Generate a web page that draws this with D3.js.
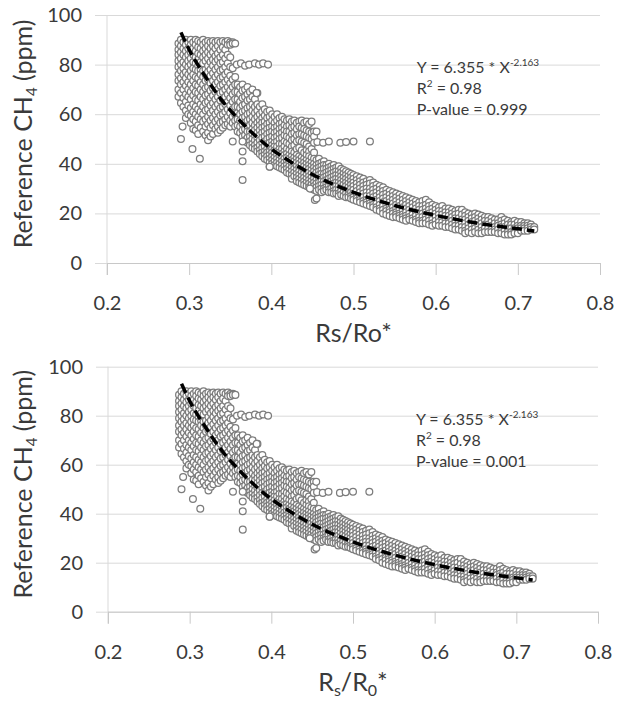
<!DOCTYPE html>
<html>
<head>
<meta charset="utf-8">
<script src="https://cdn.jsdelivr.net/npm/d3@7"></script>
<style>
  body { margin: 0; background: #fff; }
  text { font-family: Lato, "Open Sans", sans-serif; fill: #3a3a3a; }
</style>
</head>
<body>
<div id="wrapper"></div>
<script>
// ---- values ----
const xTicks = [0.2, 0.3, 0.4, 0.5, 0.6, 0.7, 0.8];
const yTicks = [0, 20, 40, 60, 80, 100];

const fitEquation = "Y = 6.355 * X";
const fitExponent = "-2.163";
const rSquared = "0.98";
const pValues = ["0.999", "0.001"];

// dashed power-law trend
const trendPoints = [[0.29, 93], [0.30, 86], [0.32, 75], [0.34, 65.5], [0.36, 58], [0.38, 51.5],
  [0.40, 46], [0.42, 41.5], [0.45, 35.7], [0.50, 28.5], [0.55, 23.2], [0.60, 19.2],
  [0.65, 16.1], [0.70, 13.8], [0.72, 12.9]];

// scatter, as columns: [Rs/Ro, [CH4 values]]
const upperCloud = [
  [0.287, [88.5, 86, 84, 81.5, 79, 76, 73.5, 70, 67]],
  [0.290, [90, 87.5, 85, 82.5, 80, 77.5, 74.5, 72, 68.5, 64.5]],
  [0.293, [89, 86.5, 84, 81, 78.5, 76, 73, 70, 66.5, 63]],
  [0.296, [90, 88, 85.5, 83, 80, 77, 74.5, 71.5, 68, 65, 61.5, 58.5]],
  [0.299, [89, 86.5, 84, 81.5, 79, 76, 73, 70, 67, 63.5, 60]],
  [0.302, [90, 88, 85, 82.5, 80, 77.5, 75, 72, 69, 66, 62.5, 59.5, 56.5]],
  [0.305, [89, 86.5, 84, 81, 78.5, 76, 73.5, 70.5, 67.5, 64, 61, 58, 54]],
  [0.308, [90, 88, 85.5, 83, 80.5, 78, 75, 72, 69, 66, 63, 60, 57, 53.5]],
  [0.311, [89.5, 87, 84.5, 82, 79.5, 77.5, 74.5, 71.5, 68.5, 65.5, 62, 59, 55.5, 52]],
  [0.314, [89, 86.5, 84, 81, 78, 76, 73, 70, 67, 64, 61, 58, 54.5]],
  [0.317, [90, 88, 85.5, 83, 80.5, 77.5, 75, 72, 69, 66, 63, 60, 57, 53]],
  [0.320, [89, 86.5, 84, 81.5, 78, 76, 73.5, 70.5, 67.5, 64.5, 61.5, 58, 55, 51.5]],
  [0.323, [89.5, 87.5, 85, 82.5, 79.5, 77, 74, 71, 68, 65, 62, 59, 56, 52.5, 49.5]],
  [0.326, [89, 86.5, 84, 81, 78, 75.5, 72.5, 69.5, 66.5, 63.5, 60.5, 57.5, 54.5, 51]],
  [0.329, [89.5, 87.5, 85, 82, 79.5, 76.5, 73.5, 70.5, 67.5, 64.5, 61.5, 58.5, 55.5, 52]],
  [0.332, [89, 86.5, 83.5, 81, 78, 75, 72, 69, 66, 63, 60, 57, 54]],
  [0.335, [89.5, 87.5, 84.5, 82, 79, 76, 73, 70, 67, 64, 61, 58, 55, 52.5]],
  [0.338, [89, 86, 83, 80.5, 77.5, 74.5, 71.5, 68.5, 65.5, 62.5, 59.5, 56.5, 53.5]],
  [0.341, [89.5, 87, 84, 81, 78, 75, 72, 69, 66, 63, 60, 57, 54.5]],
  [0.344, [89, 86, 82.5, 79, 76, 73, 70, 67, 64, 61, 58, 55.5]],
  [0.347, [89.5, 88, 84, 80.5, 77, 74, 71, 68, 65, 62, 59, 56]],
  [0.350, [89, 88, 83, 79, 75.5, 72.5, 69.5, 66.5, 63.5, 60.5, 57.5, 55]],
  [0.353, [89, 88.5, 78.5, 74, 71, 68, 65, 62, 59, 56.5]],
  [0.356, [88.5, 75, 72, 69, 66, 63, 60, 57.5, 55]]
];

const wingCloud = [
  [0.359, [72, 69, 66, 63, 60.5, 58, 55.5, 53]],
  [0.362, [71, 68, 65, 62.5, 60, 57.5, 55, 52.5]],
  [0.365, [72, 69.5, 66.5, 63.5, 61, 58.5, 56, 53.5, 51]],
  [0.368, [70, 67, 64, 61.5, 59, 56.5, 54, 51.5, 49.5]],
  [0.371, [71, 68, 65.5, 62.5, 60, 57.5, 55, 53, 50.5, 48.5]],
  [0.374, [69, 66, 63, 60.5, 58, 55.5, 53, 51, 49, 47.5]],
  [0.377, [70, 67, 64, 61.5, 59, 56.5, 54, 52, 50, 48, 46.5]],
  [0.380, [66, 63, 60.5, 58, 55.5, 53.5, 51.5, 49.5, 47.5, 46]],
  [0.383, [68.5, 64, 61.5, 59, 56.5, 54.5, 52.5, 50.5, 48.5, 46.5, 45]],
  [0.386, [63, 60, 57.5, 55.5, 53.5, 51.5, 49.5, 47.5, 45.5, 44]],
  [0.389, [64, 61, 58.5, 56.5, 54.5, 52.5, 50.5, 48.5, 46.5, 44.5, 43]],
  [0.392, [62, 59.5, 57, 55, 53, 51, 49, 47, 45, 43.5, 42]],
  [0.395, [61, 58.5, 56, 54, 52, 50, 48, 46, 44.5, 43, 41.5]],
  [0.398, [61.5, 59, 56.5, 54.5, 52.5, 50.5, 48.5, 46.5, 45, 43.5, 42, 40.5, 38.8]],
  [0.401, [60, 57.5, 55, 53, 51, 49, 47.5, 46, 44.5, 43, 41.5, 40]],
  [0.404, [59, 56.5, 54.5, 52.5, 50.5, 48.5, 47, 45.5, 44, 42.5, 41, 39.5]],
  [0.407, [60, 57.5, 55, 53, 51, 49, 47, 45, 43.5, 42, 40.5, 39]],
  [0.410, [58.5, 56, 54, 52, 50, 48, 46, 44.5, 43, 41.5, 40, 38.5]],
  [0.413, [59, 56.5, 54.5, 52.5, 50.5, 48, 46, 44, 42.5, 41, 39.5, 38]],
  [0.416, [58, 55.5, 53.5, 51.5, 49, 47, 45, 43.5, 42, 40.5, 39, 37.5]],
  [0.419, [57.5, 55, 53, 51, 48.5, 46, 44, 42.5, 41, 39.5, 38, 36.5]],
  [0.422, [58, 55.5, 53, 50.5, 48, 45.5, 43.5, 42, 40.5, 39, 37.5, 36]],
  [0.425, [57, 54.5, 52, 49.5, 47, 45, 43, 41.5, 40, 38.5, 37, 35.5, 34]],
  [0.428, [57.5, 55, 52.5, 50, 47.5, 44.5, 42.5, 41, 39.5, 38, 36.5, 35]],
  [0.431, [56.5, 54, 51.5, 49, 46, 43.5, 42, 40.5, 39, 37.5, 36, 34.5, 33]],
  [0.434, [57, 55, 52, 49.5, 46.5, 43, 41.5, 40, 38.5, 37, 35.5, 34, 32.5]],
  [0.437, [57.5, 54.5, 52, 49, 45.5, 42.5, 41, 39.5, 38, 36.5, 35, 33.5, 32]],
  [0.440, [56.5, 54, 51.5, 48.5, 44.5, 42, 40.5, 39, 37.5, 36, 34.5, 33, 31.5]],
  [0.443, [57, 53.5, 51, 48, 45.5, 43.5, 41.5, 40, 38.5, 37, 35.5, 34, 32.5, 31]],
  [0.446, [56, 53, 50.5, 47, 45, 43, 41, 39.5, 38, 36.5, 35, 33.5, 32, 30.5]],
  [0.449, [57, 52.5, 50, 46, 42.5, 40.5, 39, 37.5, 36, 34.5, 33, 31.5, 30]],
  [0.452, [53, 51, 48.5, 44.5, 42, 40, 38.5, 37, 35.5, 34, 32.5, 31, 29.5]]
];

const lowerBand = [
  [0.455, [53, 41.5, 39.5, 38, 36.5, 35, 33.5, 32, 30.5, 29]],
  [0.458, [42, 40, 38.5, 37, 35.5, 34, 32.5, 31, 29.5]],
  [0.461, [40.5, 39, 37.5, 36, 34.5, 33, 31.5, 30, 28.5]],
  [0.464, [41, 39.5, 38, 36, 34.5, 33, 31.5, 30, 29]],
  [0.467, [39.5, 38, 36.5, 35, 33.5, 32, 30.5, 29.5]],
  [0.470, [40, 38.5, 37, 35.5, 34, 32.5, 31, 29.5, 28.5]],
  [0.473, [39, 37.5, 36, 34.5, 33, 31.5, 30, 28.5]],
  [0.476, [39.5, 38, 36.5, 35, 33.5, 32, 30.5, 29, 28]],
  [0.479, [38.5, 37, 35.5, 34, 32.5, 31, 29.5, 28]],
  [0.482, [39, 37, 35.5, 34, 32.5, 31, 29.5, 28, 27]],
  [0.485, [38, 36.5, 35, 33.5, 32, 30.5, 29, 27.5]],
  [0.488, [37.5, 36, 34.5, 33, 31.5, 30, 28.5, 27]],
  [0.491, [37, 35.5, 34, 32.5, 31, 29.5, 28, 26.5]],
  [0.494, [36.5, 35, 33.5, 32, 30.5, 29, 27.5, 26.5]],
  [0.497, [36, 34.5, 33, 31.5, 30, 28.5, 27, 26]],
  [0.500, [35.5, 34, 32.5, 31, 29.5, 28, 26.5, 25.5]],
  [0.504, [35, 33.5, 32, 30.5, 29, 27.5, 26, 25]],
  [0.508, [34.5, 33, 31.5, 30, 28.5, 27, 25.5, 24.5]],
  [0.512, [34, 32.5, 31, 29.5, 28, 26.5, 25, 24]],
  [0.516, [33, 31.5, 30, 28.5, 27, 25.5, 24.5, 23.5]],
  [0.520, [33.5, 32, 30, 28.5, 27, 25.5, 24, 23]],
  [0.524, [32.5, 31, 29.5, 28, 26.5, 25, 23.5, 22.5]],
  [0.528, [31.5, 30, 28.5, 27, 25.5, 24, 22.5, 21.5]],
  [0.532, [31, 29.5, 28, 26.5, 25, 23.5, 22, 21]],
  [0.536, [30.5, 29, 27.5, 26, 24.5, 23, 21.5, 20]],
  [0.540, [29.5, 28, 26.5, 25, 23.5, 22, 21, 19.5]],
  [0.544, [29, 27.5, 26, 24.5, 23, 21.5, 20.5, 19]],
  [0.548, [28.5, 27, 25.5, 24, 22.5, 21, 20, 18.5]],
  [0.552, [28, 26.5, 25, 23.5, 22, 20.5, 19.5, 18.5]],
  [0.556, [27.5, 26, 24.5, 23, 21.5, 20, 19, 18]],
  [0.560, [27, 25.5, 24, 22.5, 21, 19.5, 18.5, 17.5]],
  [0.564, [26.5, 25, 23.5, 22, 20.5, 19, 18, 17]],
  [0.568, [26, 24.5, 23, 21.5, 20, 18.5, 17.5]],
  [0.572, [25.5, 24, 22.5, 21, 19.5, 18, 17]],
  [0.576, [25, 23.5, 22, 20.5, 19, 17.5, 16.5]],
  [0.580, [24.5, 23, 21.5, 20, 18.5, 17, 16]],
  [0.584, [25, 23, 21.5, 20, 18.5, 17, 16]],
  [0.588, [25.5, 23.5, 22, 20.5, 19, 17.5, 16]],
  [0.592, [24.5, 23, 21.5, 20, 18.5, 17, 15.5]],
  [0.596, [23.5, 22, 20.5, 19, 17.5, 16, 15]],
  [0.600, [23, 21.5, 20, 18.5, 17, 15.5]],
  [0.604, [22.5, 21, 19.5, 18, 16.5, 15]],
  [0.608, [23, 21, 19.5, 18, 16.5, 15]],
  [0.612, [22, 20.5, 19, 17.5, 16, 14.5]],
  [0.616, [22, 20.5, 19, 17.5, 16, 14.5]],
  [0.620, [21.5, 20, 18.5, 17, 15.5, 14]],
  [0.624, [21, 19.5, 18, 16.5, 15, 13.5]],
  [0.628, [21.5, 20, 18, 16.5, 15, 13.5]],
  [0.632, [21.5, 19.5, 17.5, 16, 14.5, 13]],
  [0.636, [20.5, 19, 17.5, 16, 14.5, 13, 12]],
  [0.640, [20, 18.5, 17, 15.5, 14, 12.5]],
  [0.644, [19.5, 18, 16.5, 15, 13.5, 12]],
  [0.648, [20, 18.5, 17, 15.5, 14, 12.5]],
  [0.652, [19.5, 18, 16.5, 15, 13.5, 12]],
  [0.656, [19, 17.5, 16, 14.5, 13, 12]],
  [0.660, [18.5, 17, 15.5, 14, 12.5]],
  [0.664, [18.5, 17, 15.5, 14, 12.5]],
  [0.668, [18, 16.5, 15, 13.5, 12.5]],
  [0.672, [17.5, 16, 14.5, 13.5, 12.5]],
  [0.676, [17.5, 16, 15, 13.5, 12]],
  [0.680, [18.5, 17, 15.5, 14.5, 13, 12]],
  [0.684, [17.5, 16, 14.5, 13, 11.5]],
  [0.688, [17, 15.5, 14, 12.5, 11.5]],
  [0.692, [16.5, 15.5, 14, 12.5, 11.5]],
  [0.696, [17, 15.5, 14, 13, 12]],
  [0.700, [16.5, 15, 14, 13, 12]],
  [0.704, [16.5, 15, 14, 13]],
  [0.708, [16, 15, 14, 13]],
  [0.712, [16, 15, 14, 13]],
  [0.716, [15.5, 14.5, 13.5]],
  [0.720, [14.5, 13.5]]
];

// loose points and short horizontal runs
const strayPoints = [
  [0.292, 55], [0.290, 50], [0.304, 46], [0.313, 42], [0.353, 49], [0.365, 49], [0.365, 45],
  [0.365, 41], [0.365, 33.5], [0.382, 68.5], [0.398, 38.8], [0.447, 30], [0.453, 25.4], [0.455, 26],
  [0.358, 80], [0.363, 80.5], [0.368, 79.5], [0.373, 80], [0.380, 80.5], [0.385, 80], [0.390, 80.5], [0.396, 80],
  [0.456, 48.8], [0.463, 48.5], [0.470, 49], [0.484, 48.5], [0.491, 48.8], [0.500, 49], [0.520, 49]
];

// ---- layout ----
const svg = d3.select("#wrapper").append("svg")
  .attr("width", 621)
  .attr("height", 703);

const panels = [
  { top: 15, bottom: 263, left: 107, right: 600, title: [["Rs/Ro*", 0]], pValue: pValues[0] },
  { top: 366.7, bottom: 611.7, left: 108, right: 598,
    title: [["R", 0], ["s", 1], ["/R", 0], ["0", 1], ["*", 0]], pValue: pValues[1] }
];

// flatten column data into points
const scatter = [];
[upperCloud, wingCloud, lowerBand].forEach(cols => {
  cols.forEach(([xv, ys]) => ys.forEach(yv => scatter.push([xv, yv])));
});
strayPoints.forEach(p => scatter.push(p));

function drawPanel(cfg) {
  const xScale = d3.scaleLinear().domain([0.2, 0.8]).range([cfg.left, cfg.right]);
  const yScale = d3.scaleLinear().domain([0, 100]).range([cfg.bottom, cfg.top]);
  const w = cfg.right - cfg.left;

  // horizontal gridlines + y labels
  const yAxis = svg.append("g")
    .attr("transform", `translate(${cfg.left - 12},0)`)
    .call(d3.axisLeft(yScale).tickValues(yTicks).tickSize(-(w + 12)).tickPadding(13));
  yAxis.select(".domain").remove();
  yAxis.selectAll(".tick line").attr("stroke", "#d9d9d9");
  yAxis.selectAll(".tick text").style("font-size", "20px").attr("fill", "#3a3a3a");

  // vertical axis line
  svg.append("line")
    .attr("x1", cfg.left).attr("x2", cfg.left)
    .attr("y1", cfg.top).attr("y2", cfg.bottom + 12)
    .attr("stroke", "#d9d9d9");

  // x axis
  const xAxis = svg.append("g")
    .attr("transform", `translate(0,${cfg.bottom})`)
    .call(d3.axisBottom(xScale).tickValues(xTicks).tickSize(12).tickSizeOuter(0)
      .tickPadding(21).tickFormat(d3.format(".1f")));
  xAxis.select(".domain").attr("stroke", "#c8c8c8");
  xAxis.selectAll(".tick line").attr("stroke", "#c8c8c8");
  xAxis.selectAll(".tick text").style("font-size", "20px").attr("fill", "#3a3a3a");

  // points
  svg.append("g").selectAll("circle")
    .data(scatter)
    .join("circle")
    .attr("cx", d => xScale(d[0]))
    .attr("cy", d => yScale(d[1]))
    .attr("r", 3.4)
    .attr("fill", "#fff")
    .attr("stroke", "#7c7c7c")
    .attr("stroke-width", 1.25);

  // trend line
  const line = d3.line()
    .x(d => xScale(d[0]))
    .y(d => yScale(d[1]))
    .curve(d3.curveMonotoneX);
  svg.append("path")
    .attr("d", line(trendPoints))
    .attr("fill", "none")
    .attr("stroke", "#000")
    .attr("stroke-width", 3.5)
    .attr("stroke-dasharray", "10,5");

  // equation text
  const ax = xScale(0.577);
  const t1 = svg.append("text").attr("x", ax).attr("y", cfg.top + 58).style("font-size", "16px");
  t1.append("tspan").text(fitEquation);
  t1.append("tspan").text(fitExponent).style("font-size", "10px").attr("dy", -7);
  const t2 = svg.append("text").attr("x", ax).attr("y", cfg.top + 79).style("font-size", "16px");
  t2.append("tspan").text("R");
  t2.append("tspan").text("2").style("font-size", "10px").attr("dy", -7);
  t2.append("tspan").text(" = " + rSquared).attr("dy", 7);
  svg.append("text").attr("x", ax).attr("y", cfg.top + 100).style("font-size", "16px")
    .text("P-value = " + cfg.pValue);

  // y title
  const cy = (cfg.top + cfg.bottom) / 2 - 5;
  const yt = svg.append("text")
    .attr("transform", `translate(32,${cy}) rotate(-90)`)
    .attr("text-anchor", "middle")
    .style("font-size", "25px");
  yt.append("tspan").text("Reference CH");
  yt.append("tspan").text("4").style("font-size", "15px").attr("dy", 5);
  yt.append("tspan").text(" (ppm)").attr("dy", -5);

  // x title
  const xt = svg.append("text")
    .attr("x", (cfg.left + cfg.right) / 2)
    .attr("y", cfg.bottom + 79)
    .attr("text-anchor", "middle")
    .style("font-size", "25px");
  let shift = 0;
  cfg.title.forEach(([s, sub]) => {
    const want = sub ? 5 : 0;
    xt.append("tspan").text(s)
      .style("font-size", sub ? "16px" : "25px")
      .attr("dy", want - shift);
    shift = want;
  });
}

panels.forEach(drawPanel);
</script>
</body>
</html>
